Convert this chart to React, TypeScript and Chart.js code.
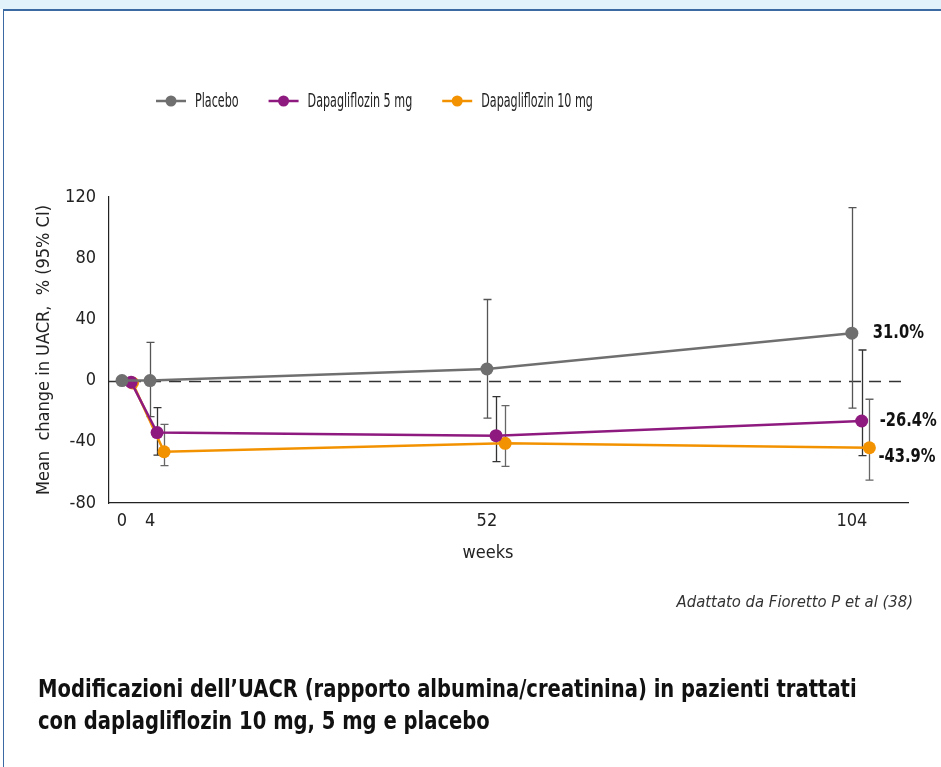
import React, { useEffect, useRef } from "react";
import { Chart, registerables } from "chart.js";

Chart.register(...registerables);

const FONT = "'Liberation Sans Narrow', 'DejaVu Sans Condensed', 'Roboto', sans-serif";

const seriesNames = ["Placebo", "Dapagliflozin 5 mg", "Dapagliflozin 10 mg"];
const seriesColors = ["#6f6f6f", "#8e1a7f", "#f39200"];
const errColors = ["#555555", "#333333", "#666666"];

const xTicks = [0, 4, 52, 104];

const weeksPlacebo = [0, 4, 52, 104];
const placebo = [0, 0, 7.6, 31.0];
const placeboLow = [null, -23.6, -24.5, -18];
const placeboHigh = [null, 25, 53, 113];

const weeksDapa5 = [1.3, 5, 53.3, 105.4];
const dapa5 = [-1, -34, -36, -26.4];
const dapa5Low = [null, -48.7, -53, -49];
const dapa5High = [null, -17.7, -10.5, 20];

const weeksDapa10 = [1.5, 6, 54.6, 106.5];
const dapa10 = [-1.5, -46.5, -41, -43.9];
const dapa10Low = [null, -55.6, -56, -65];
const dapa10High = [null, -28.6, -16.4, -12.2];

const endLabels = ["31.0%", "-26.4%", "-43.9%"];

const allX = [weeksPlacebo, weeksDapa5, weeksDapa10];
const allY = [placebo, dapa5, dapa10];
const allLow = [placeboLow, dapa5Low, dapa10Low];
const allHigh = [placeboHigh, dapa5High, dapa10High];

function narrowText(ctx: any, text: string, x: number, y: number, sx: number) {
  ctx.save();
  ctx.translate(x, y);
  ctx.scale(sx, 1);
  ctx.fillText(text, 0, 0);
  ctx.restore();
  return ctx.measureText(text).width * sx;
}

const extrasPlugin = {
  id: "extras",
  beforeDatasetsDraw(chart: any) {
    const { ctx, chartArea, scales } = chart;
    const y0 = Math.round(scales.y.getPixelForValue(0)) + 0.5;
    ctx.save();
    ctx.strokeStyle = "#333333";
    ctx.lineWidth = 1.5;
    ctx.setLineDash([12, 8]);
    ctx.beginPath();
    ctx.moveTo(chartArea.left, y0);
    ctx.lineTo(chartArea.right, y0);
    ctx.stroke();
    ctx.setLineDash([]);
    for (let s = 0; s < 3; s++) {
      ctx.strokeStyle = errColors[s];
      ctx.lineWidth = 1.3;
      for (let i = 0; i < allX[s].length; i++) {
        const lo = allLow[s][i];
        const hi = allHigh[s][i];
        if (lo === null || hi === null) continue;
        const x = Math.round(scales.x.getPixelForValue(allX[s][i])) + 0.5;
        const yl = scales.y.getPixelForValue(lo);
        const yh = scales.y.getPixelForValue(hi);
        ctx.beginPath();
        ctx.moveTo(x, yl);
        ctx.lineTo(x, yh);
        ctx.moveTo(x - 4, yl);
        ctx.lineTo(x + 4, yl);
        ctx.moveTo(x - 4, yh);
        ctx.lineTo(x + 4, yh);
        ctx.stroke();
      }
    }
    ctx.restore();
  },
  afterDraw(chart: any) {
    const { ctx, scales } = chart;
    ctx.save();
    ctx.font = `bold 19px ${FONT}`;
    ctx.fillStyle = "#111111";
    ctx.textBaseline = "middle";
    ctx.textAlign = "left";
    const dy = [0, 0, 9];
    const dx = [21, 18, 9];
    for (let s = 0; s < 3; s++) {
      const n = allX[s].length - 1;
      const x = scales.x.getPixelForValue(allX[s][n]) + dx[s];
      const y = scales.y.getPixelForValue(allY[s][n]) + dy[s];
      narrowText(ctx, endLabels[s], x, y, 0.86);
    }
    ctx.font = `20px ${FONT}`;
    let lx = 156;
    const ly = 101;
    for (let s = 0; s < 3; s++) {
      ctx.strokeStyle = seriesColors[s];
      ctx.lineWidth = 2.5;
      ctx.beginPath();
      ctx.moveTo(lx, ly);
      ctx.lineTo(lx + 30, ly);
      ctx.stroke();
      ctx.fillStyle = seriesColors[s];
      ctx.beginPath();
      ctx.arc(lx + 15, ly, 5.5, 0, Math.PI * 2);
      ctx.fill();
      ctx.fillStyle = "#222222";
      const w = narrowText(ctx, seriesNames[s], lx + 39, ly + 1, 0.62);
      lx += 39 + w + 30;
    }
    ctx.restore();
  },
};

export default function App() {
  const ref = useRef<HTMLCanvasElement | null>(null);
  useEffect(() => {
    document.body.style.margin = "0";
    const datasets = [0, 1, 2].map((s) => ({
      label: seriesNames[s],
      data: allX[s].map((x, i) => ({ x, y: allY[s][i] })),
      borderColor: seriesColors[s],
      backgroundColor: seriesColors[s],
      borderWidth: 2.5,
      pointRadius: 6.5,
      pointHoverRadius: 6.5,
      pointBorderWidth: 0,
      tension: 0,
    }));
    const chart = new Chart(ref.current as HTMLCanvasElement, {
      type: "line",
      data: { datasets },
      options: {
        animation: false,
        responsive: false,
        devicePixelRatio: 1,
        layout: { padding: { left: 34, top: 197, right: 33, bottom: 204 } },
        plugins: { legend: { display: false }, tooltip: { enabled: false } },
        scales: {
          x: {
            type: "linear",
            min: -1.85,
            max: 112,
            grid: { display: false, drawTicks: false },
            border: { display: true, color: "#222222", width: 1.2 },
            afterBuildTicks: (scale: any) => {
              scale.ticks = xTicks.map((v) => ({ value: v }));
            },
            afterFit: (scale: any) => {
              scale.height = 60;
            },
            ticks: {
              padding: 8,
              color: "#222222",
              font: { family: FONT, size: 18 },
              maxRotation: 0,
              autoSkip: false,
              callback: (v: any) => String(v),
            },
          },
          y: {
            min: -80,
            max: 120,
            grid: { display: false, drawTicks: false },
            border: { display: true, color: "#222222", width: 1.2 },
            afterFit: (scale: any) => {
              scale.width = 75;
            },
            ticks: {
              stepSize: 40,
              padding: 13,
              color: "#222222",
              font: { family: FONT, size: 18 },
            },
            title: {
              display: true,
              text: "Mean  change in UACR,  % (95% CI)",
              color: "#222222",
              font: { family: FONT, size: 18 },
              padding: 0,
            },
          },
        },
      },
      plugins: [extrasPlugin],
    } as any);
    return () => chart.destroy();
  }, []);

  return (
    <div style={{ position: "relative", width: 941, height: 767, background: "#ffffff", overflow: "hidden", fontFamily: FONT }}>
      <div style={{ position: "absolute", left: 0, top: 0, width: 941, height: 9, background: "#e2f3fc" }} />
      <div style={{ position: "absolute", left: 3, top: 9, width: 960, height: 800, borderTop: "2px solid #3b6aa3", borderLeft: "1px solid #3b6aa3", boxSizing: "border-box" }} />
      <canvas ref={ref} width={941} height={767} style={{ position: "absolute", left: 0, top: 0, width: 941, height: 767 }} />
      <div style={{ position: "absolute", left: 438, width: 100, top: 541, textAlign: "center", fontSize: 18, color: "#222" }}>weeks</div>
      <div style={{ position: "absolute", right: 28, top: 592, fontSize: 16.5, fontStyle: "italic", color: "#333" }}>Adattato da Fioretto P et al (38)</div>
      <div style={{ position: "absolute", left: 38, top: 673, fontSize: 25, fontWeight: "bold", color: "#111", lineHeight: "32px", transform: "scaleX(0.87)", transformOrigin: "left top", whiteSpace: "nowrap" }}>
        Modificazioni dell’UACR (rapporto albumina/creatinina) in pazienti trattati
        <br />
        con daplagliflozin 10 mg, 5 mg e placebo
      </div>
    </div>
  );
}
